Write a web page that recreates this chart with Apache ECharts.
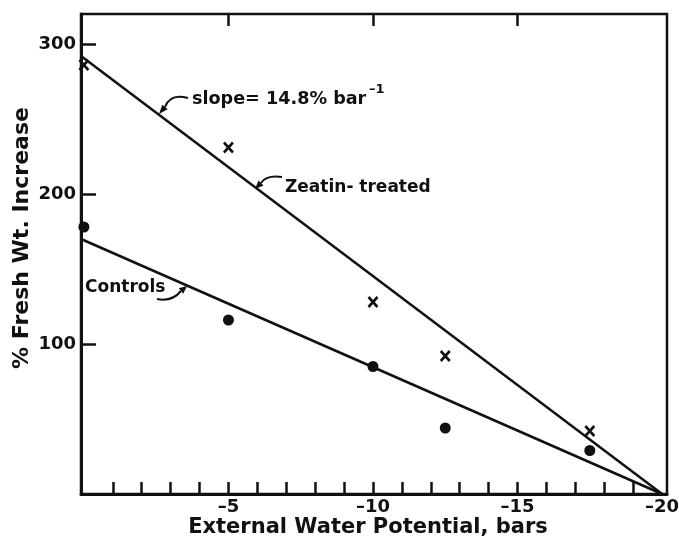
<!DOCTYPE html>
<html>
<head>
    <meta charset="utf-8">
    <title>Fresh weight vs water potential</title>
    <script src="https://cdn.jsdelivr.net/npm/echarts@6/dist/echarts.min.js"></script>
    <style>
        body { margin: 0; background: #fff; }
    </style>
</head>
<body>
<div id="main" style="width: 679px;height:541px;"></div>
<script type="text/javascript">
    // data
    var potentials = [0, -5, -10, -12.5, -17.5];
    var zeatinValues = [286, 231, 128, 92, 42];
    var controlValues = [178, 116, 85, 44, 29];

    // fitted lines (end points)
    var zeatinFitX = [0.1, -20];
    var zeatinFitY = [292, 0];
    var controlFitX = [0.1, -20];
    var controlFitY = [170, 0];

    // ticks
    var xMinorTicks = [-1, -2, -3, -4, -5, -6, -7, -8, -9, -10, -11, -12, -13, -14, -15, -16, -17, -18, -19];
    var xTopTicks = [-5, -10, -15];
    var xTickValues = [-5, -10, -15, -20];
    var xTickLabels = ['–5', '–10', '–15', '–20'];
    var yTickValues = [100, 200, 300];

    var ink = '#111';
    var font = 'DejaVu Sans';

    function pairs(xs, ys) {
        return xs.map(function (x, i) { return [x, ys[i]]; });
    }

    // hooked arrow used for the annotations
    function arrow(x0, y0, cx, cy, x1, y1, tx, ty) {
        var dx = tx - x1, dy = ty - y1;
        var len = Math.sqrt(dx * dx + dy * dy);
        var nx = -dy / len * 3.5, ny = dx / len * 3.5;
        return [{
            type: 'bezierCurve',
            shape: { x1: x0, y1: y0, cpx1: cx, cpy1: cy, x2: x1, y2: y1 },
            style: { stroke: ink, lineWidth: 2, fill: null }
        }, {
            type: 'polygon',
            shape: { points: [[x1 + nx, y1 + ny], [tx, ty], [x1 - nx, y1 - ny]] },
            style: { fill: ink }
        }];
    }

    var myChart = echarts.init(document.getElementById('main'));

    myChart.setOption({
        animation: false,
        backgroundColor: '#fff',
        grid: {
            left: 81,
            right: 12,
            top: 14,
            bottom: 47,
            containLabel: false,
            outerBoundsMode: 'none',
            show: true,
            borderColor: ink,
            borderWidth: 2.5
        },
        xAxis: [
            {
                type: 'value',
                inverse: true,
                min: -20.17,
                max: 0.1,
                position: 'bottom',
                axisLine: { show: true, onZero: false, lineStyle: { color: ink, width: 3 } },
                axisTick: {
                    show: true, inside: true, length: 12,
                    customValues: xMinorTicks,
                    lineStyle: { color: ink, width: 2.5 }
                },
                axisLabel: {
                    customValues: xTickValues,
                    formatter: function (v) {
                        return xTickLabels[xTickValues.indexOf(v)];
                    },
                    color: ink, fontFamily: font, fontWeight: 'bold', fontSize: 18, margin: 4
                },
                splitLine: { show: false }
            },
            {
                type: 'value',
                inverse: true,
                min: -20.17,
                max: 0.1,
                position: 'top',
                axisLine: { show: false, onZero: false },
                axisTick: {
                    show: true, inside: true, length: 12,
                    customValues: xTopTicks,
                    lineStyle: { color: ink, width: 2.5 }
                },
                axisLabel: { show: false },
                splitLine: { show: false }
            }
        ],
        yAxis: {
            type: 'value',
            min: 0,
            max: 320,
            position: 'left',
            axisLine: { show: true, onZero: false, lineStyle: { color: ink, width: 3 } },
            axisTick: {
                show: true, inside: true, length: 15,
                customValues: yTickValues,
                lineStyle: { color: ink, width: 2.5 }
            },
            axisLabel: {
                customValues: yTickValues,
                color: ink, fontFamily: font, fontWeight: 'bold', fontSize: 18, margin: 5
            },
            splitLine: { show: false }
        },
        series: [
            {
                name: 'Zeatin fit',
                type: 'line',
                data: pairs(zeatinFitX, zeatinFitY),
                symbol: 'none',
                lineStyle: { color: ink, width: 2.5 }
            },
            {
                name: 'Controls fit',
                type: 'line',
                data: pairs(controlFitX, controlFitY),
                symbol: 'none',
                lineStyle: { color: ink, width: 2.5 }
            },
            {
                name: 'Zeatin-treated',
                type: 'scatter',
                data: pairs(potentials, zeatinValues),
                symbol: 'path://M0,0L10,10M10,0L0,10',
                symbolSize: [9, 10],
                itemStyle: { color: 'none', borderColor: ink, borderWidth: 2.8, opacity: 1 }
            },
            {
                name: 'Controls',
                type: 'scatter',
                data: pairs(potentials, controlValues),
                symbol: 'circle',
                symbolSize: 11,
                itemStyle: { color: ink, opacity: 1 }
            }
        ],
        graphic: [
            {
                type: 'text', x: 22, y: 238, rotation: Math.PI / 2,
                style: {
                    text: '% Fresh Wt. Increase', fill: ink, font: 'bold 22px ' + font,
                    align: 'center', verticalAlign: 'middle'
                }
            },
            {
                type: 'text', x: 368, y: 528,
                style: {
                    text: 'External Water Potential, bars', fill: ink, font: 'bold 21px ' + font,
                    align: 'center', verticalAlign: 'middle'
                }
            },
            {
                type: 'text', x: 192, y: 99,
                style: {
                    text: 'slope= 14.8% bar', fill: ink, font: 'bold 17.6px ' + font,
                    align: 'left', verticalAlign: 'middle'
                }
            },
            {
                type: 'text', x: 369, y: 90,
                style: {
                    text: '–1', fill: ink, font: 'bold 13px ' + font,
                    align: 'left', verticalAlign: 'middle'
                }
            },
            {
                type: 'text', x: 285, y: 188,
                style: {
                    text: 'Zeatin- treated', fill: ink, font: 'bold 17px ' + font,
                    align: 'left', verticalAlign: 'middle'
                }
            },
            {
                type: 'text', x: 85, y: 288,
                style: {
                    text: 'Controls', fill: ink, font: 'bold 17px ' + font,
                    align: 'left', verticalAlign: 'middle'
                }
            }
        ]
            .concat(arrow(188, 98, 170, 93, 165, 107, 159, 114))
            .concat(arrow(282, 177, 266, 175, 261, 183, 255, 189))
            .concat(arrow(157, 299, 172, 302, 181, 291, 187, 286))
    });
</script>
</body>
</html>
